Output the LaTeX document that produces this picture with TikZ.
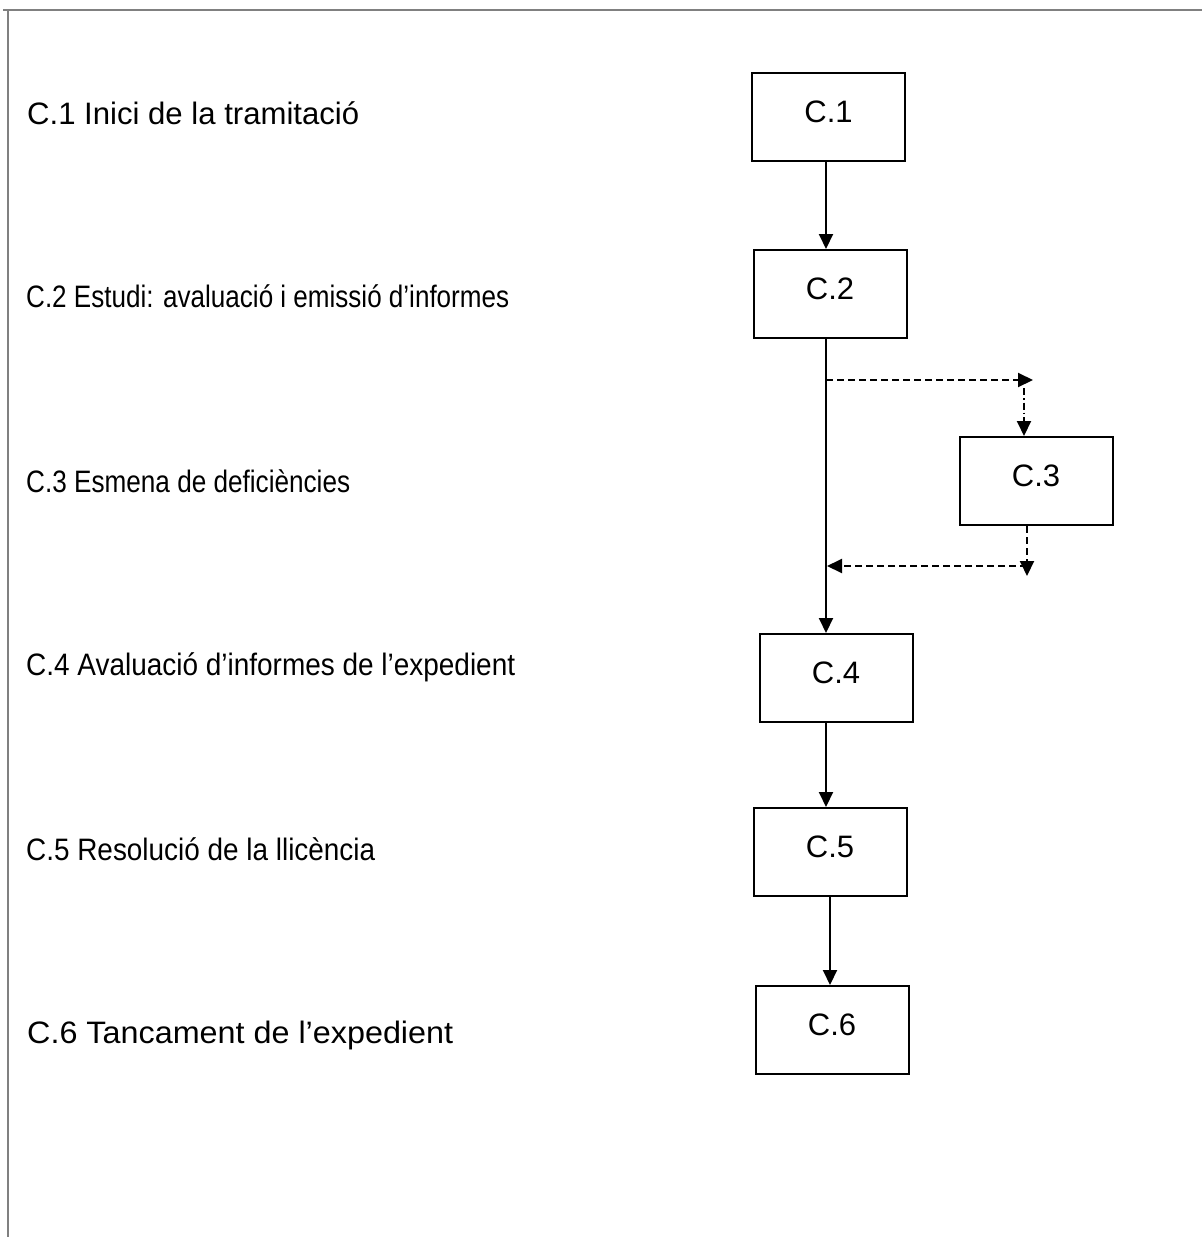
\documentclass[tikz,border=0pt]{standalone}
\usepackage{fontspec}
\setmainfont{Liberation Sans}
\usepackage{graphicx}
\usetikzlibrary{arrows.meta}
\newlength\mynatw
\newcommand\fitto[2]{\settowidth\mynatw{#2}\scalebox{\fpeval{(#1)/(\mynatw)}}[1]{#2}}
\tikzset{
  stepbox/.style={draw, line width=2pt, minimum width=153pt, inner xsep=0pt, inner ysep=0pt,
    text height=49pt, text depth=39pt, anchor=base, font=\fontsize{31}{37}\selectfont},
  lbl/.style={anchor=base west, inner sep=0pt, font=\fontsize{31}{37}\selectfont},
  conn/.style={line width=2pt, -{Triangle[length=15pt,width=14pt]}},
  dsh/.style={conn, dash pattern=on 7pt off 4pt},
  dshdot/.style={conn, dash pattern=on 7pt off 3pt on 1.5pt off 3pt},
  frame/.style={draw=gray, line width=2pt}
}
\begin{document}
\begin{tikzpicture}[x=1pt,y=-1pt]
\useasboundingbox (0,0) rectangle (1202,1237);
% frame
\draw[frame] (3,10) -- (1202,10);
\draw[frame] (8,10) -- (8,1237);
% labels
\node[lbl] (t1) at (27,124) {\fitto{332pt}{C.1 Inici de la tramitació}};
\node[lbl] (t2) at (26,307) {\fitto{483pt}{C.2 Estudi: avaluació i emissió d’informes}};
\node[lbl] (t3) at (26,492) {\fitto{324pt}{C.3 Esmena de deficiències}};
\node[lbl] (t4) at (26,675) {\fitto{489pt}{C.4 Avaluació d’informes de l’expedient}};
\node[lbl] (t5) at (26,860) {\fitto{349pt}{C.5 Resolució de la llicència}};
\node[lbl] (t6) at (27,1043) {\fitto{426pt}{C.6 Tancament de l’expedient}};
% boxes
\node[stepbox] (b1) at (828.5,122) {C.1};
\node[stepbox] (b2) at (830,299) {C.2};
\node[stepbox] (b3) at (1036,486) {C.3};
\node[stepbox] (b4) at (836,683) {C.4};
\node[stepbox] (b5) at (830,857) {C.5};
\node[stepbox] (b6) at (832,1035) {C.6};
% spine coordinates
\coordinate (s1) at (826,0);
\coordinate (s2) at (830,0);
% main flow
\draw[conn] (b1.south -| s1) -- (b2.north -| s1);
\draw[conn] (b2.south -| s1) -- (b4.north -| s1);
\draw[conn] (b4.south -| s1) -- (b5.north -| s1);
\draw[conn] (b5.south -| s2) -- (b6.north -| s2);
% dashed loop via C.3
\coordinate (dA) at (826,380);
\coordinate (dB) at (1033,380);
\coordinate (dC) at (1024,388);
\coordinate (dD) at (1027,576);
\coordinate (dE) at (1027,566);
\coordinate (dF) at (827,566);
\draw[dsh] (dA) -- (dB);
\draw[dshdot] (dC) -- (b3.north -| dC);
\draw[dsh] (b3.south -| dD) -- (dD);
\draw[dsh] (dE) -- (dF);
\end{tikzpicture}
\end{document}
